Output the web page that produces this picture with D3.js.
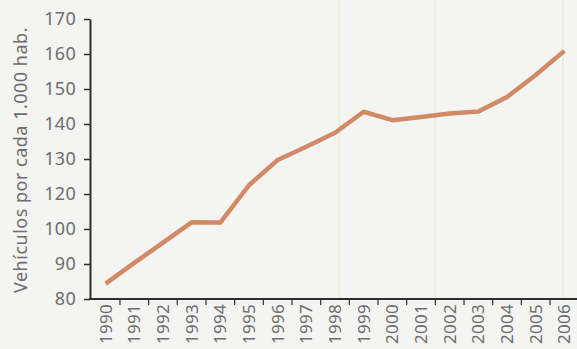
<!DOCTYPE html>
<html>
<head>
<meta charset="utf-8">
<script src="https://cdn.jsdelivr.net/npm/d3@7"></script>
<style>
  html, body { margin: 0; padding: 0; background: #f4f4f3; }
  svg { display: block; }
  text { font-family: "Noto Sans", "DejaVu Sans", sans-serif; }
</style>
</head>
<body>
<script>
// Vehicles per 1,000 inhabitants, 1990–2006
const years = ["1990","1991","1992","1993","1994","1995","1996","1997","1998",
               "1999","2000","2001","2002","2003","2004","2005","2006"];
const vehicles = [84.4, 90.3, 96.1, 103.8, 103.7, 122.5, 129.7, 133.5, 137.5,
                  143.5, 141.1, 142.0, 143.0, 143.6, 147.7, 154.0, 160.9];
// The printed axis labels (no 110 label; ticks are evenly spaced)
const yTickLabels = [80, 90, 100, 120, 130, 140, 150, 160, 170];
// Faint vertical guide lines (in year units)
const guides = [1998.15, 2001.5, 2005.95];

const W = 577, H = 349;
const margin = { left: 90, right: 0, top: 19, bottom: 50 };

const svg = d3.select("body").append("svg")
  .attr("width", W).attr("height", H);

svg.append("rect").attr("width", W).attr("height", H).attr("fill", "#f4f4f3");

const x = d3.scaleBand()
  .domain(years)
  .range([91.3, 578.7])
  .paddingInner(0).paddingOuter(0);

// Evenly spaced ticks, mapped piecewise onto the printed labels
const yRange = yTickLabels.map((d, i) =>
  (H - margin.bottom) - i * ((H - margin.bottom - margin.top) / (yTickLabels.length - 1)));
const y = d3.scaleLinear().domain(yTickLabels).range(yRange);

const xYear = d3.scaleLinear()
  .domain([1990, 2006])
  .range([x("1990") + x.bandwidth() / 2, x("2006") + x.bandwidth() / 2]);

// faint guide lines
svg.append("g").selectAll("line").data(guides).join("line")
  .attr("x1", d => xYear(d)).attr("x2", d => xYear(d))
  .attr("y1", 0).attr("y2", H - margin.bottom)
  .attr("stroke", "#e9ecd2").attr("stroke-width", 1.5);

// data line
const line = d3.line()
  .x((d, i) => x(years[i]) + x.bandwidth() / 2)
  .y(d => y(d));

svg.append("path")
  .datum(vehicles)
  .attr("d", line)
  .attr("fill", "none")
  .attr("stroke", "#d08a65")
  .attr("stroke-width", 4.5)
  .attr("stroke-linejoin", "round")
  .attr("stroke-linecap", "butt");

// y axis
const yAxis = d3.axisLeft(y)
  .tickValues(yTickLabels)
  .tickSize(6)
  .tickSizeOuter(0)
  .tickPadding(8)
  .tickFormat(d3.format("d"));

const gy = svg.append("g")
  .attr("transform", `translate(${margin.left},0)`)
  .call(yAxis);
gy.select(".domain").attr("stroke", "#2e2e2e").attr("stroke-width", 2);
gy.selectAll(".tick line").attr("stroke", "#2e2e2e").attr("stroke-width", 1.5);
gy.selectAll(".tick text")
  .attr("fill", "#6e6e6e")
  .style("font-size", "18px")
  .style("letter-spacing", "0.3px");

// x axis with ticks at band boundaries
const gx = svg.append("g")
  .attr("transform", `translate(0,${H - margin.bottom})`);
gx.append("line")
  .attr("x1", margin.left - 1).attr("x2", W)
  .attr("y1", 0).attr("y2", 0)
  .attr("stroke", "#2e2e2e").attr("stroke-width", 2);
gx.selectAll("line.tk").data(years.slice(1)).join("line")
  .attr("class", "tk")
  .attr("x1", d => x(d)).attr("x2", d => x(d))
  .attr("y1", 0).attr("y2", 6)
  .attr("stroke", "#2e2e2e").attr("stroke-width", 1.2);
gx.selectAll("text").data(years).join("text")
  .attr("transform", d => `translate(${x(d) + x.bandwidth() / 2 + 6},5) rotate(-90)`)
  .attr("text-anchor", "end")
  .attr("fill", "#6e6e6e")
  .style("font-size", "17px")
  .style("letter-spacing", "0.3px")
  .text(d => d);

// y axis title
svg.append("text")
  .attr("transform", `translate(27,${(margin.top + H - margin.bottom) / 2 + 1}) rotate(-90)`)
  .attr("text-anchor", "middle")
  .attr("fill", "#6e6e6e")
  .style("font-size", "18px")
  .style("letter-spacing", "0.5px")
  .text("Vehículos por cada 1.000 hab.");
</script>
</body>
</html>
